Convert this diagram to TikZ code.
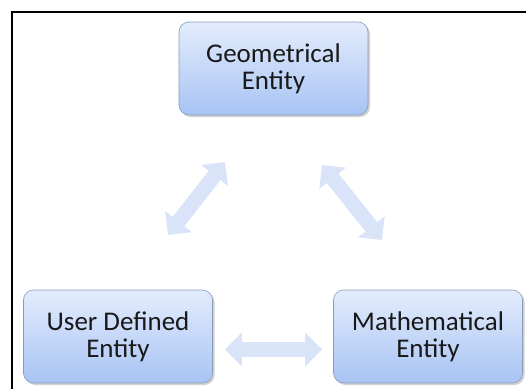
\documentclass[tikz,border=0pt]{standalone}
\usepackage{fontspec}
\setmainfont{Carlito}
\usetikzlibrary{arrows.meta,shadows,calc}
\definecolor{boxtop}{HTML}{E3ECFC}
\definecolor{boxbot}{HTML}{A8C4F4}
\definecolor{boxline}{HTML}{8A9BB8}
\definecolor{arrowc}{HTML}{D9E4F8}
\tikzset{
  entity/.style={draw=boxline, line width=0.6pt, rounded corners=10pt,
    top color=boxtop, bottom color=boxbot, minimum width=189pt, minimum height=93pt,
    align=center, font=\fontsize{27}{27}\selectfont, text=black!90,
    drop shadow={shadow xshift=2pt, shadow yshift=-2pt, opacity=0.3, fill=black!60}},
  fatarrow/.style={line width=15pt, draw=arrowc,
    {Triangle[width=33pt,length=17pt]}-{Triangle[width=33pt,length=17pt]}}
}
\begin{document}
\begin{tikzpicture}[x=1pt,y=-1pt]
\useasboundingbox (0,0) rectangle (526,389);
\draw[line width=2pt] (12,389) -- (12,12) -- (526,12);
\node[entity] (G) at (273.5,68.5) {Geometrical\\Entity};
\node[entity] (U) at (118,336.5) {User Defined\\Entity};
\node[entity] (M) at (428,336.5) {Mathematical\\Entity};
\coordinate (l1) at (168,235);
\coordinate (l2) at (225,162);
\coordinate (r1) at (322,165);
\coordinate (r2) at (382,240);
\coordinate (h1) at ($(U.east)+(12,13)$);
\coordinate (h2) at ($(M.west)+(-11,13)$);
\draw[fatarrow] (l1) -- (l2);
\draw[fatarrow] (r1) -- (r2);
\draw[fatarrow] (h1) -- (h2);
\end{tikzpicture}
\end{document}
